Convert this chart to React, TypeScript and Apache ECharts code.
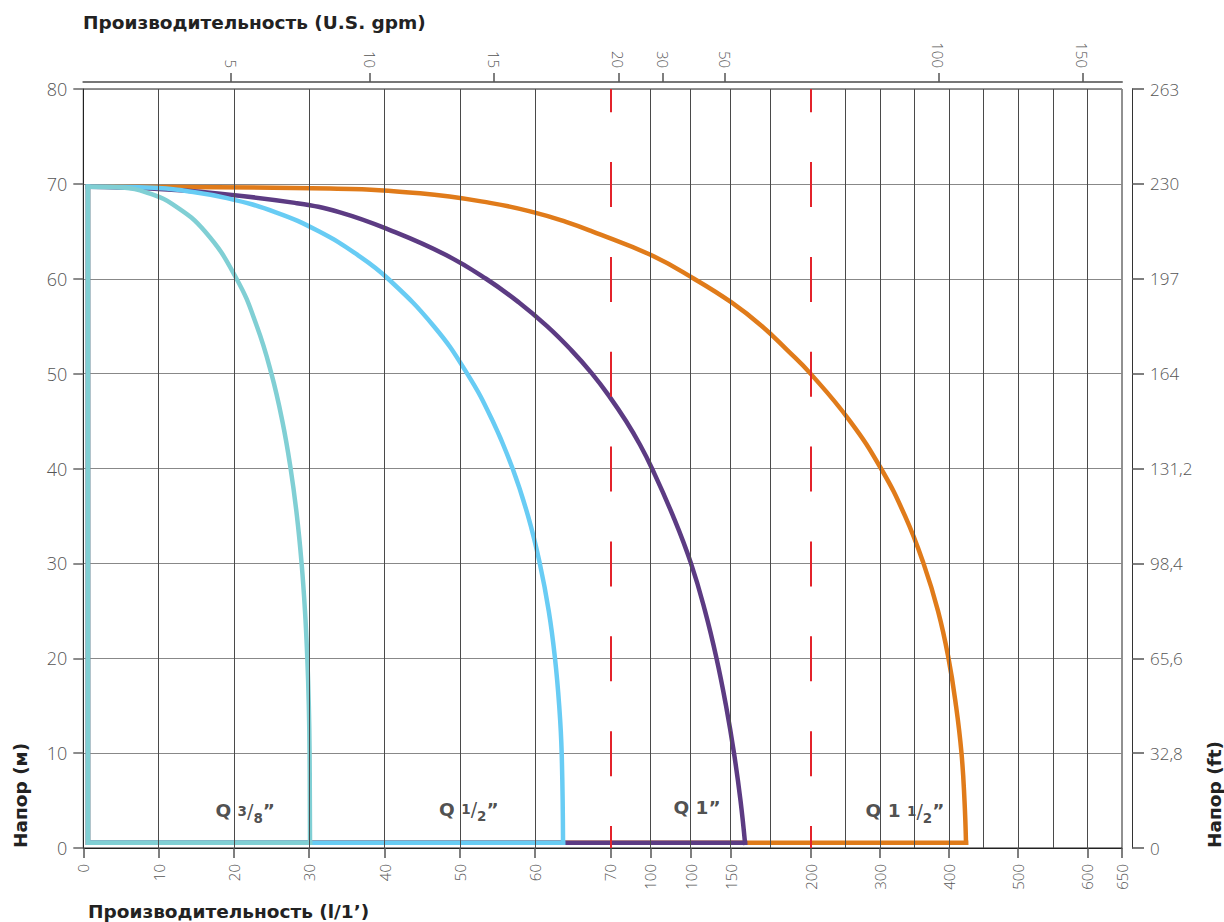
import React, { useEffect, useRef } from 'react';
import * as echarts from 'echarts';

// ---- x scale: flow (l/min) -> axis units (piecewise, as drawn on the sheet)
const scaleFlow = [0, 70, 200, 650];
const scaleUnits = [0, 527.1, 727.4, 1038.7];

function toX(q: number): number {
  for (let i = 1; i < scaleFlow.length; i++) {
    if (q <= scaleFlow[i] || i === scaleFlow.length - 1) {
      const f0 = scaleFlow[i - 1], f1 = scaleFlow[i];
      const u0 = scaleUnits[i - 1], u1 = scaleUnits[i];
      return u0 + ((q - f0) * (u1 - u0)) / (f1 - f0);
    }
  }
  return 0;
}

// ---- axes
const bottomTickFlows = [0, 10, 20, 30, 40, 50, 60, 70, 96, 122, 148, 200, 300, 400, 500, 600, 650];
const bottomTickLabels = ['0', '10', '20', '30', '40', '50', '60', '70', '100', '100', '150', '200', '300', '400', '500', '600', '650'];
const gridFlows = [10, 20, 30, 40, 50, 60, 96, 122, 148, 174, 250, 300, 350, 400, 450, 500, 550, 600];
const redFlows = [70, 200];
const topTickFlows = [19.6, 38.1, 54.5, 75.1, 104.3, 144.4, 384.4, 592.6];
const topTickLabels = ['5', '10', '15', '20', '30', '50', '100', '150'];
const ftLabels = ['0', '32,8', '65,6', '98,4', '131,2', '164', '197', '230', '263'];

// ---- curves [flow l/min, head m]
const q38 = [[0.62, 69.7], [5.5, 69.6], [8.75, 69.0], [11.78, 67.9], [16.14, 65.0], [20.35, 60.0], [23.05, 55.0], [24.98, 50.0], [26.43, 45.0], [27.53, 40.0], [28.37, 35.0], [28.99, 30.0], [29.44, 25.0], [29.75, 20.0], [29.95, 15.0], [30.05, 10.0], [30.11, 0.55]];
const q12 = [[0.62, 69.7], [9.39, 69.6], [13.25, 69.3], [19.08, 68.5], [25.56, 67.0], [31.27, 65.0], [36.45, 62.5], [40.48, 60.0], [46.55, 55.0], [50.98, 50.0], [54.37, 45.0], [57.01, 40.0], [59.06, 35.0], [60.62, 30.0], [61.81, 25.0], [62.64, 20.0], [63.2, 15.0], [63.53, 10.0], [63.71, 0.55]];
const q1 = [[0.62, 69.7], [8.86, 69.5], [17.49, 69.0], [28.11, 68.0], [34.09, 67.0], [41.13, 65.0], [48.17, 62.5], [53.48, 60.0], [57.86, 57.5], [61.58, 55.0], [64.77, 52.5], [67.56, 50.0], [69.95, 47.5], [80.12, 45.0], [89.21, 42.5], [97.0, 40.0], [110.63, 35.0], [122.31, 30.0], [131.4, 25.0], [138.86, 20.0], [145.03, 15.0], [150.22, 10.0], [154.44, 5.0], [157.36, 0.55]];
const q112 = [[0.62, 69.7], [32.76, 69.5], [44.71, 69.0], [54.01, 68.0], [59.85, 67.0], [64.1, 66.0], [67.56, 65.0], [96.35, 62.5], [124.26, 60.0], [148.6, 57.5], [168.39, 55.0], [184.62, 52.5], [199.87, 50.0], [256.81, 45.0], [301.62, 40.0], [336.31, 35.0], [363.05, 30.0], [384.01, 25.0], [399.19, 20.0], [410.03, 15.0], [417.98, 10.0], [422.32, 5.0], [424.49, 0.55]];

const curveNames = ['Q 1 1/2”', 'Q 1”', 'Q 1/2”', 'Q 3/8”'];
const curveData = [q112, q1, q12, q38];
const curveColors = ['#E07B1A', '#5C3B83', '#68CCF4', '#80CFD4'];

// curve labels: [whole part, numerator, denominator]
const labelParts = [['Q 1 ', '1', '2'], ['Q 1', '', ''], ['Q ', '1', '2'], ['Q ', '3', '8']];
const labelFlows = [336.3, 126.2, 51.2, 21.5];
const labelHeads = [3.9, 4.3, 4.1, 3.9];

const numFont = '"Open Sans", "DejaVu Sans", sans-serif';
const boldFont = '"DejaVu Sans", sans-serif';

function lookup(vals: number[], labels: string[]) {
  return (v: number) => {
    const i = vals.findIndex((p) => Math.abs(p - v) < 1e-6);
    return i >= 0 ? labels[i] : '';
  };
}

export default function App() {
  const ref = useRef<HTMLDivElement>(null);
  useEffect(() => {
    const chart = echarts.init(ref.current!, undefined, { renderer: 'svg' });
    const axisMax = toX(650);
    const bottomPos = bottomTickFlows.map(toX);
    const topPos = topTickFlows.map(toX);
    const pt = (d: number[]) => [toX(d[0]), d[1]];

    const series: any[] = [
      {
        type: 'line', data: [], silent: true, z: 1,
        markLine: {
          silent: true, symbol: ['none', 'none'], label: { show: false }, animation: false,
          lineStyle: { color: '#4a4a4a', width: 1, type: 'solid' },
          data: gridFlows.map((q) => ({ xAxis: toX(q) })),
        },
      },
    ];
    curveData.forEach((d, i) => {
      const first = d[0], last = d[d.length - 1];
      series.push({
        type: 'line', name: curveNames[i] + ' base', z: 2, silent: true, symbol: 'none', smooth: false,
        data: [[last[0], last[1]], [first[0], last[1]], [first[0], first[1]]].map(pt),
        lineStyle: { color: curveColors[i], width: 4.5, cap: 'square', join: 'miter' },
      });
      series.push({
        type: 'line', name: curveNames[i], z: 2, silent: true, symbol: 'none', smooth: 0.45,
        data: d.map(pt),
        lineStyle: { color: curveColors[i], width: 4.5, cap: 'square' },
      });
    });
    series.push({
      type: 'line', data: [], silent: true, z: 3,
      markLine: {
        silent: true, symbol: ['none', 'none'], label: { show: false }, animation: false,
        lineStyle: { color: '#E3232B', width: 2, type: [45, 49.85], dashOffset: 22.5 },
        data: redFlows.map((q) => ({ xAxis: toX(q) })),
      },
    });
    series.push({
      type: 'scatter', z: 4, silent: true, symbolSize: 1,
      itemStyle: { color: 'rgba(0,0,0,0)' },
      label: {
        show: true, position: 'inside', color: '#222',
        rich: {
          q: { fontFamily: boldFont, fontWeight: 'bold', fontSize: 18.5, color: '#222', lineHeight: 28 },
          n: { fontFamily: boldFont, fontWeight: 'bold', fontSize: 13.5, color: '#222', verticalAlign: 'middle' },
          s: { fontFamily: boldFont, fontWeight: 'normal', fontSize: 19, color: '#222' },
          d: { fontFamily: boldFont, fontWeight: 'bold', fontSize: 13.5, color: '#222', verticalAlign: 'bottom' },
          p: { fontFamily: boldFont, fontWeight: 'bold', fontSize: 18.5, color: '#222' },
        },
      },
      data: labelParts.map((p, i) => ({
        value: [toX(labelFlows[i]), labelHeads[i]],
        label: {
          formatter: p[1]
            ? `{q|${p[0]}}{n|${p[1]}}{s|/}{d|${p[2]}}{p|”}`
            : `{q|${p[0]}}{p|”}`,
        },
      })),
    });

    const numLabel = { color: '#555', fontFamily: numFont, fontWeight: 300 };
    const titleStyle = { fill: '#222', fontFamily: boldFont, fontWeight: 'bold', fontSize: 18.5, verticalAlign: 'middle', align: 'left' };

    const option: any = {
      animation: false,
      grid: {
        left: 83.3, top: 89, width: 1038.7, height: 759,
        show: true, borderColor: '#222', borderWidth: 1, containLabel: false, outerBoundsMode: 'none',
      },
      xAxis: [
        {
          type: 'value', position: 'bottom', min: 0, max: axisMax,
          axisLine: { show: true, onZero: false, lineStyle: { color: '#222', width: 1 } },
          axisTick: { show: true, customValues: bottomPos, length: 10, lineStyle: { color: '#555', width: 1.5 } },
          axisLabel: { show: true, customValues: bottomPos, rotate: 90, margin: 16, fontSize: 15, ...numLabel, formatter: lookup(bottomPos, bottomTickLabels) },
          splitLine: { show: false },
        },
        {
          type: 'value', position: 'top', offset: 7, min: 0, max: axisMax,
          axisLine: { show: true, onZero: false, lineStyle: { color: '#777', width: 2 } },
          axisTick: { show: true, customValues: topPos, length: 9, lineStyle: { color: '#555', width: 1.5 } },
          axisLabel: { show: true, customValues: topPos, rotate: 90, margin: 14, fontSize: 15, ...numLabel, formatter: lookup(topPos, topTickLabels) },
          splitLine: { show: false },
        },
      ],
      yAxis: [
        {
          type: 'value', position: 'left', min: 0, max: 80, interval: 10,
          axisLine: { show: true, onZero: false, lineStyle: { color: '#222', width: 1 } },
          axisTick: { show: true, length: 10, lineStyle: { color: '#666', width: 1.5 } },
          axisLabel: { margin: 16, fontSize: 18, ...numLabel },
          splitLine: { show: true, lineStyle: { color: '#888', width: 1 } },
        },
        {
          type: 'value', position: 'right', offset: 10, min: 0, max: 80, interval: 10,
          axisLine: { show: true, onZero: false, lineStyle: { color: '#333', width: 1 } },
          axisTick: { show: true, length: 12, lineStyle: { color: '#555', width: 1.5 } },
          axisLabel: { margin: 18, fontSize: 17, ...numLabel, formatter: (v: number) => ftLabels[Math.round(v / 10)] ?? '' },
          splitLine: { show: false },
        },
      ],
      graphic: [
        { type: 'text', x: 83, y: 22, style: { text: 'Производительность (U.S. gpm)', ...titleStyle } },
        { type: 'text', x: 88, y: 911, style: { text: 'Производительность (l/1’)', ...titleStyle } },
        { type: 'text', x: 20, y: 848, rotation: Math.PI / 2, style: { text: 'Напор (м)', ...titleStyle } },
        { type: 'text', x: 1214, y: 848, rotation: Math.PI / 2, style: { text: 'Напор (ft)', ...titleStyle } },
      ],
      series,
    };
    chart.setOption(option);
    return () => chart.dispose();
  }, []);
  return <div ref={ref} style={{ position: 'fixed', left: 0, top: 0, width: 1224, height: 922, background: '#fff' }} />;
}
